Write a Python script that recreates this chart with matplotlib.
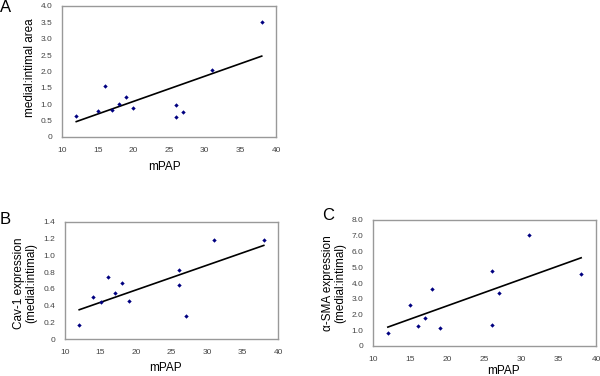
import matplotlib
matplotlib.use("Agg")
import matplotlib.pyplot as plt

plt.rcParams['font.family'] = ['Liberation Sans', 'DejaVu Sans']

# Panel A
xA = [12, 15, 16, 17, 18, 19, 20, 26, 26, 27, 31, 38]
yA = [0.63, 0.80, 1.57, 0.82, 1.02, 1.23, 0.90, 0.97, 0.60, 0.77, 2.06, 3.50]
trend_xA = [12, 38]
trend_yA = [0.47, 2.47]

# Panel B
xB = [12, 14, 15, 16, 17, 18, 19, 26, 26, 27, 31, 38]
yB = [0.17, 0.50, 0.44, 0.74, 0.55, 0.67, 0.45, 0.82, 0.65, 0.28, 1.19, 1.19]
trend_xB = [12, 38]
trend_yB = [0.35, 1.12]

# Panel C
xC = [12, 15, 16, 17, 18, 19, 26, 26, 27, 31, 38]
yC = [0.85, 2.60, 1.30, 1.80, 3.65, 1.15, 4.75, 1.35, 3.35, 7.05, 4.60]
trend_xC = [12, 38]
trend_yC = [1.20, 5.60]

x_ticks = [10, 15, 20, 25, 30, 35, 40]
yticks_A = [0, 0.5, 1.0, 1.5, 2.0, 2.5, 3.0, 3.5, 4.0]
yticks_B = [0, 0.2, 0.4, 0.6, 0.8, 1.0, 1.2, 1.4]
yticks_C = [0, 1.0, 2.0, 3.0, 4.0, 5.0, 6.0, 7.0, 8.0]

W, H = 600, 376
fig = plt.figure(figsize=(6.0, 3.76), dpi=100)

def fx(px):
    return px / W

def fy(py):
    return 1 - py / H

def panel(box, x, y, tx, ty, yticks, ylabel, letter, letter_px, xlabel_px, ylabel_px):
    l, t, r, b = box
    ax = fig.add_axes([fx(l), fy(b), (r - l) / W, (b - t) / H])
    ax.scatter(x, y, marker='D', s=5, color='#000080', zorder=3, linewidths=0)
    ax.plot(tx, ty, color='black', lw=1.2, zorder=2)
    ax.set_xlim(10, 40)
    ax.set_ylim(yticks[0], yticks[-1])
    ax.set_xticks(x_ticks)
    ax.set_xticklabels([str(v) for v in x_ticks])
    ax.set_yticks(yticks)
    ylabels = ['0'] + ['%.1f' % v for v in yticks[1:]]
    ax.set_yticklabels(ylabels)
    ax.tick_params(length=0, labelsize=6, colors='#444444', pad=7)
    ax.tick_params(axis='x', pad=7)
    for s in ax.spines.values():
        s.set_color('#999999')
        s.set_linewidth(1.0)
    fig.text(fx(letter_px[0]), fy(letter_px[1]), letter, fontsize=12, ha='left', va='center')
    fig.text(fx(xlabel_px[0]), fy(xlabel_px[1]), 'mPAP', fontsize=8.5, ha='center', va='center')
    fig.text(fx(ylabel_px[0]), fy(ylabel_px[1]), ylabel, fontsize=8.5, ha='center', va='center',
             rotation=90, linespacing=1.05, multialignment='center')
    return ax

panel((62, 6, 276, 137), xA, yA, trend_xA, trend_yA, yticks_A,
      'medial:intimal area', 'A', (0, 7), (164, 167), (30, 68))
panel((65, 222, 278, 339), xB, yB, trend_xB, trend_yB, yticks_B,
      'Cav-1 expression\n(medial:intimal)', 'B', (0, 219), (165, 368), (25, 283))
panel((373, 220, 596, 346), xC, yC, trend_xC, trend_yC, yticks_C,
      'α-SMA expression\n(medial:intimal)', 'C', (322, 215), (503, 371), (334, 283))

fig.savefig('out.png', dpi=100)
